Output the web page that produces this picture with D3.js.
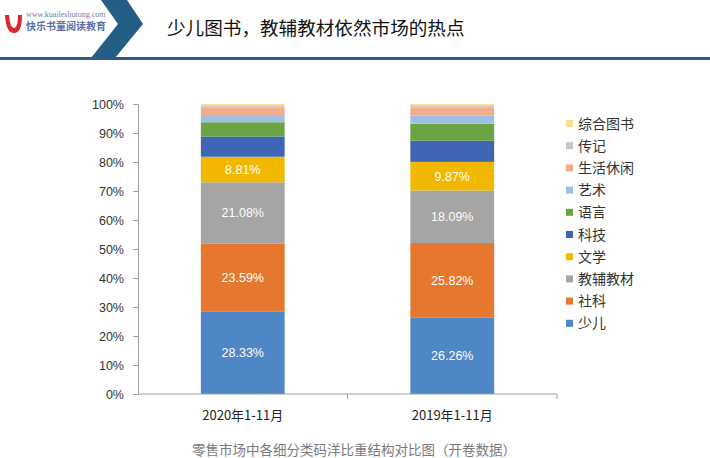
<!DOCTYPE html>
<html>
<head>
<meta charset="utf-8">
<script src="https://cdn.jsdelivr.net/npm/d3@7"></script>
<style>
  html, body { margin: 0; padding: 0; background: #fff; }
  svg { display: block; }
</style>
</head>
<body>
<svg id="chart" width="710" height="458"></svg>
<script>
// ---- data ----
const categories = ["2020年1-11月", "2019年1-11月"];
const seriesNames = ["少儿", "社科", "教辅教材", "文学", "科技", "语言", "艺术", "生活休闲", "传记", "综合图书"];
const values2020 = [28.33, 23.59, 21.08, 8.81, 7.0, 4.9, 2.5, 2.5, 0.8, 0.49];
const values2019 = [26.26, 25.82, 18.09, 9.87, 7.3, 5.9, 2.8, 2.7, 0.8, 0.46];
const labelShown = ["少儿", "社科", "教辅教材", "文学"];
const yTicks = [0, 10, 20, 30, 40, 50, 60, 70, 80, 90, 100];
const seriesColors = ["#4F86C6", "#E5782E", "#A5A5A5", "#F2B800", "#3F66B4", "#6AA443", "#9EC0E3", "#F2AE8C", "#C6C6C6", "#FBDE94"];
const title = "少儿图书，教辅教材依然市场的热点";
const caption = "零售市场中各细分类码洋比重结构对比图（开卷数据）";

const svg = d3.select("#chart");
const font = "'Noto Sans CJK SC', 'Liberation Sans', sans-serif";

// ---- header ----
const header = svg.append("g");
header.append("path")
  .attr("d", "M101,0 L127,0 L143,24 L115,58 L91,58 L118,24 Z")
  .attr("fill", "#245e84");
header.append("rect").attr("x", 0).attr("y", 57).attr("width", 710).attr("height", 3).attr("fill", "#2a5d80");
header.append("text")
  .attr("x", 167).attr("y", 35)
  .attr("font-family", font).attr("font-size", 18.6).attr("fill", "#111")
  .text(title);
// logo
header.append("path")
  .attr("d", "M5,15 Q6,33 14,33 Q22,33 22,15 L18,15 Q18,28 14,28 Q10,28 9,15 Z")
  .attr("fill", "#e0262c");
header.append("text").attr("x", 26).attr("y", 17)
  .attr("font-family", "'Liberation Serif', serif").attr("font-size", 8).attr("fill", "#6b7fb3")
  .text("www.kuaileshutong.com");
header.append("text").attr("x", 26).attr("y", 30)
  .attr("font-family", font).attr("font-size", 10).attr("font-weight", "bold").attr("fill", "#5a6fa8")
  .text("快乐书童阅读教育");

// ---- chart ----
const x0 = 138, x1 = 557, yTop = 104, yBot = 394;
const x = d3.scaleBand().domain(categories).range([x0, x1]).paddingInner(0.6).paddingOuter(0.3);
const y = d3.scaleLinear().domain([0, 100]).range([yBot, yTop]);

const table = categories.map((c, i) => {
  const vals = i === 0 ? values2020 : values2019;
  const o = { cat: c };
  seriesNames.forEach((s, j) => o[s] = vals[j]);
  return o;
});
const stack = d3.stack().keys(seriesNames)(table);
const color = d3.scaleOrdinal().domain(seriesNames).range(seriesColors);

const g = svg.append("g");
stack.forEach(layer => {
  g.selectAll(null).data(layer).enter().append("rect")
    .attr("x", d => x(d.data.cat))
    .attr("width", x.bandwidth())
    .attr("y", d => y(d[1]))
    .attr("height", d => y(d[0]) - y(d[1]))
    .attr("fill", color(layer.key));
  if (labelShown.includes(layer.key)) {
    g.selectAll(null).data(layer).enter().append("text")
      .attr("x", d => x(d.data.cat) + x.bandwidth() / 2)
      .attr("y", d => (y(d[0]) + y(d[1])) / 2 + 4.5)
      .attr("text-anchor", "middle")
      .attr("font-family", "'Liberation Sans', sans-serif").attr("font-size", 12.5)
      .attr("fill", "#fff")
      .text(d => (d[1] - d[0]).toFixed(2) + "%");
  }
});

// y axis
const yAxis = d3.axisLeft(y).tickValues(yTicks).tickFormat(d => d + "%").tickSize(5).tickSizeOuter(0);
const ya = svg.append("g").attr("transform", `translate(${x0},0)`).call(yAxis);
ya.select(".domain").attr("stroke", "#a0a0a0");
ya.selectAll(".tick line").attr("stroke", "#a0a0a0");
ya.selectAll(".tick text")
  .attr("font-family", "'Liberation Sans', sans-serif").attr("font-size", 12.5).attr("fill", "#333")
  .attr("x", -14);

// x axis
const xa = svg.append("g").attr("transform", `translate(0,${yBot})`);
xa.append("line").attr("x1", x0).attr("x2", x1).attr("y1", 0).attr("y2", 0).attr("stroke", "#a0a0a0");
[x0 + (x1 - x0) / 2, x1].forEach(px => {
  xa.append("line").attr("x1", px).attr("x2", px).attr("y1", 0).attr("y2", 5).attr("stroke", "#a0a0a0");
});
xa.selectAll(null).data(categories).enter().append("text")
  .attr("x", d => x(d) + x.bandwidth() / 2)
  .attr("y", 26)
  .attr("text-anchor", "middle")
  .attr("font-family", font).attr("font-size", 13).attr("fill", "#222")
  .text(d => d);

// legend
const legendOrder = seriesNames.slice().reverse();
const lg = svg.append("g");
legendOrder.forEach((s, i) => {
  const cy = 123.5 + i * 22.2;
  lg.append("rect").attr("x", 566).attr("y", cy - 3.5).attr("width", 7).attr("height", 7).attr("fill", color(s));
  lg.append("text").attr("x", 578).attr("y", cy + 5)
    .attr("font-family", font).attr("font-size", 14).attr("fill", "#333")
    .text(s);
});

// caption
svg.append("text").attr("x", 354).attr("y", 455)
  .attr("text-anchor", "middle")
  .attr("font-family", font).attr("font-size", 13.5).attr("fill", "#7a7a7a")
  .text(caption);
</script>
</body>
</html>
